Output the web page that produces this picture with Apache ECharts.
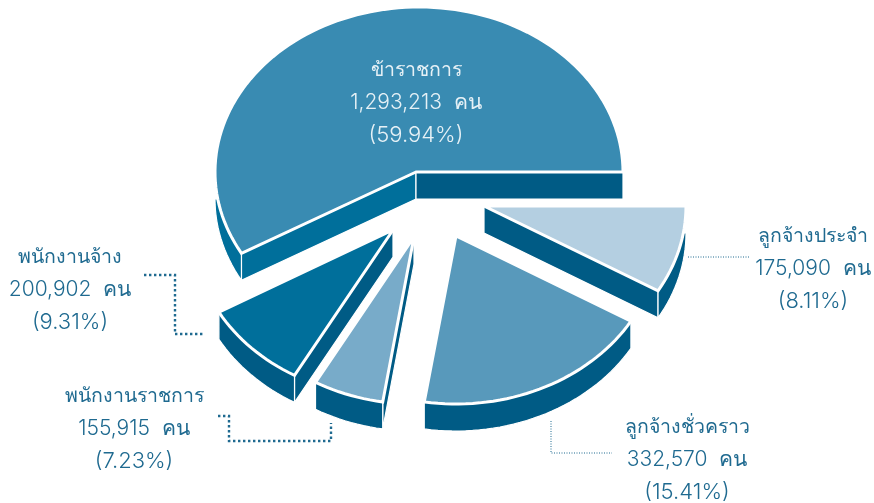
<!DOCTYPE html>
<html>
<head>
<meta charset="utf-8">
<style>html,body{margin:0;padding:0;background:#fff}#c{width:874px;height:503px}</style>
<script src="https://cdn.jsdelivr.net/npm/echarts@6/dist/echarts.min.js"></script>
</head>
<body>
<div id="c"></div>
<script>
// ---- data ----
const categories = ['ข้าราชการ', 'ลูกจ้างประจำ', 'ลูกจ้างชั่วคราว', 'พนักงานราชการ', 'พนักงานจ้าง'];
const people = [1293213, 175090, 332570, 155915, 200902];
const percents = [59.94, 8.11, 15.41, 7.23, 9.31];
// The wedges in the reference are not drawn proportional to their labels,
// so the swept angle of each wedge (degrees) is read from the picture too.
const drawnSweep = [209.5, 30.5, 68.5, 20.5, 31];

// ---- layout and style ----
const firstAngle = 150.5;              // clockwise from +x
const pie = {x: 416, y: 172, depth: 27};
const explode = [[0, 0], [68, 34], [40, 64], [-2, 65], [-23, 58]];
const radii = [[204, 165], [202, 167], [203, 168], [200, 167], [200, 167]];
const arcShift = [3, 0, 0, 0, 0];
const faceColors = ['#398bb2', '#b4cfe1', '#5899bb', '#78abc9', '#006f9b'];
const wallColors = ['#006f9b', '#005b85', '#005b85', '#005b85', '#005b85'];
const endWallColors = ['#005b85', '#005b85', '#005b85', '#005b85', '#005b85'];
const textColors = ['#e6f1f6', '#1f6a90', '#1f6a90', '#1f6a90', '#1f6a90'];
const labelPos = [[416, 70], [813, 236], [687, 427], [134, 396], [70, 257]];
const lineGap = 32.5;
const lineSizes = [19.5, 21, 22];
const font = 'Inter, "Noto Sans", sans-serif';
const leaders = [
  {w: 1, pts: [[688, 257], [750, 257]]},
  {w: 1, pts: [[551, 421], [551, 453], [612, 453]]},
  {w: 2.4, pts: [[218, 416], [229, 416], [229, 441], [331, 441], [331, 423]]},
  {w: 2.4, pts: [[144, 275], [175, 275], [175, 334], [205, 334]]}
];

const rad = d => d * Math.PI / 180;
const fmt = n => n.toLocaleString('en-US');

function arc(cx, cy, rx, ry, a, b) {
  const n = Math.max(2, Math.ceil(Math.abs(b - a) / 2));
  const out = [];
  for (let i = 0; i <= n; i++) {
    const t = rad(a + (b - a) * i / n);
    out.push([cx + rx * Math.cos(t), cy + ry * Math.sin(t)]);
  }
  return out;
}

function wall(points, color, z) {
  return {type: 'polygon', z2: z, shape: {points},
    style: {fill: color, stroke: '#fff', lineWidth: 1.2}};
}

function renderSlice(params, api) {
  const i = params.dataIndex;
  const s = api.value(0), e = api.value(1);
  const ax = pie.x + explode[i][0], ay = pie.y + explode[i][1];
  const [rx, ry] = radii[i];
  const cx = ax + arcShift[i], cy = ay, d = pie.depth;
  const kids = [];
  const top = arc(cx, cy, rx, ry, s, e);
  const first = top[0], last = top[top.length - 1];

  // cut walls that face the viewer
  if (Math.cos(rad(s)) < 0) {
    kids.push(wall([[ax, ay], first, [first[0], first[1] + d], [ax, ay + d]], wallColors[i], 1));
  }
  if (Math.cos(rad(e)) > 0) {
    kids.push(wall([[ax, ay], last, [last[0], last[1] + d], [ax, ay + d]], endWallColors[i], 1));
  }
  // outer wall: lower half of the rim only
  const lo = Math.max(s, 0), hi = Math.min(e, 180);
  if (hi > lo) {
    const cap = Math.asin(d / ry) * 180 / Math.PI;
    const lower = arc(cx, cy + d, rx, ry, lo, hi);
    const upper = arc(cx, cy, rx, ry, Math.min(hi, 180 - cap), Math.max(lo, cap));
    kids.push(wall(lower.concat(upper), wallColors[i], 2));
  }
  // top face
  kids.push({type: 'polygon', z2: 3, shape: {points: [[ax, ay]].concat(top)},
    style: {fill: faceColors[i], stroke: '#fff', lineWidth: 3}});
  // label
  const lines = [categories[i], fmt(people[i]) + '  คน', '(' + percents[i].toFixed(2) + '%)'];
  lines.forEach((t, k) => kids.push({type: 'text', z2: 5,
    style: {x: labelPos[i][0], y: labelPos[i][1] + k * lineGap, text: t,
      fill: textColors[i], font: '300 ' + lineSizes[k] + 'px ' + font, align: 'center', verticalAlign: 'middle'}}));
  return {type: 'group', children: kids};
}

let acc = firstAngle;
const rows = drawnSweep.map(v => { const r = [acc, acc + v]; acc += v; return r; });
// wedges after the first wrap round to 0..150.5
rows.forEach((r, i) => { if (i > 0) { r[0] -= 360; r[1] -= 360; } });

const chart = echarts.init(document.getElementById('c'), null, {renderer: 'canvas'});
chart.setOption({
  backgroundColor: '#fff',
  animation: false,
  series: [
    {type: 'custom', coordinateSystem: 'none', clip: false, silent: true,
     data: rows, encode: {}, renderItem: renderSlice},
    {type: 'custom', coordinateSystem: 'none', clip: false, silent: true,
     data: leaders.map((_, i) => [i]),
     renderItem: (p) => ({type: 'polyline', z2: 1,
       shape: {points: leaders[p.dataIndex].pts},
       style: {fill: 'none', stroke: '#1f6a90', lineWidth: leaders[p.dataIndex].w,
         lineDash: leaders[p.dataIndex].w > 1 ? [2.4, 2.6] : [1, 1.5]}})}
  ]
});
</script>
</body>
</html>
